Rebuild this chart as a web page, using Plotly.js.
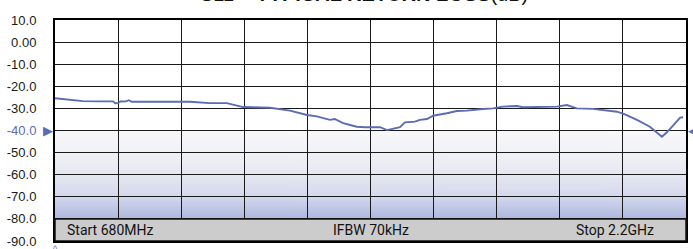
<!DOCTYPE html>
<html>
<head>
<meta charset="utf-8">
<script src="https://cdn.plot.ly/plotly-3.0.1.min.js"></script>
<style>html,body{margin:0;padding:0;background:#fff;}#chart{width:693px;height:249px;}</style>
</head>
<body>
<div id="chart"></div>
<script>
// Frequency in MHz
const freqMHz = [680, 716, 747, 788, 820, 825, 832, 837, 851, 858, 865, 933, 1005, 1053, 1094, 1133, 1198, 1246, 1287, 1311, 1342, 1354, 1374, 1391, 1407, 1427, 1451, 1463, 1480, 1511, 1523, 1547, 1559, 1576, 1591, 1615, 1624, 1648, 1672, 1711, 1735, 1759, 1793, 1807, 1856, 1889, 1913, 1937, 1976, 2017, 2034, 2053, 2082, 2113, 2130, 2142, 2154, 2186, 2193];
// Return loss S11 in dB
const s11dB = [-25.4, -26.0, -26.7, -26.8, -26.8, -27.7, -27.6, -26.9, -26.8, -26.3, -27.0, -27.0, -27.0, -27.6, -27.6, -29.4, -29.7, -31.0, -33.0, -33.6, -35.2, -34.8, -36.7, -37.5, -38.3, -38.5, -38.3, -38.5, -39.8, -38.5, -36.3, -36.0, -35.2, -34.8, -33.3, -32.7, -32.2, -31.2, -31.0, -30.3, -30.0, -29.2, -28.9, -29.5, -29.2, -29.2, -28.5, -30.0, -30.2, -31.0, -31.5, -32.7, -35.2, -38.3, -40.8, -42.8, -40.8, -34.2, -34.0];
const yTickVals = [10, 0, -10, -20, -30, -40, -50, -60, -70, -80, -90];
const yTickText = ['10.0', '0.00', '-10.0', '-20.0', '-30.0', '<span style="color:#5b6bb6">-40.0</span>', '-50.0', '-60.0', '-70.0', '-80.0', '-90.0'];
const barLabels = ['Start 680MHz', 'IFBW 70kHz', 'Stop 2.2GHz'];
const titleText = 'S11 – <b>TYPICAL RETURN LOSS</b>(dB)';
const refLevel = -40;

// gradient background image
const cv = document.createElement('canvas');
cv.width = 4; cv.height = 200;
const ctx = cv.getContext('2d');
const g = ctx.createLinearGradient(0, 0, 0, 200);
g.addColorStop(0, '#f8f8fa');
g.addColorStop(0.25, '#f1f2f6');
g.addColorStop(0.5, '#e6e8f1');
g.addColorStop(0.75, '#d3d8ec');
g.addColorStop(1, '#aeb8df');
ctx.fillStyle = g; ctx.fillRect(0, 0, 4, 200);
const gradURL = cv.toDataURL();

const trace = {
  x: freqMHz, y: s11dB, type: 'scatter', mode: 'lines',
  line: {color: '#5b6bb6', width: 1.9}, hoverinfo: 'skip'
};

const font = "'Liberation Sans', Arial, sans-serif";
const layout = {
  width: 693, height: 249,
  margin: {l: 55, r: 7, t: 20, b: 8},
  paper_bgcolor: '#ffffff', plot_bgcolor: '#ffffff',
  showlegend: false,
  xaxis: {
    range: [680, 2200], tickmode: 'linear', tick0: 680, dtick: 152,
    showticklabels: false, ticks: '', showgrid: true, gridcolor: '#1a1a1a', gridwidth: 1,
    zeroline: false, showline: true, linecolor: '#000', linewidth: 2, mirror: true
  },
  yaxis: {
    range: [-90, 10], tickmode: 'array', tickvals: yTickVals, ticktext: yTickText,
    ticks: '', ticklabelstandoff: 14, showgrid: true, gridcolor: '#1a1a1a', gridwidth: 1,
    zeroline: false, showline: true, linecolor: '#000', linewidth: 2, mirror: true,
    tickfont: {family: font, size: 13, color: '#1a1a1a'}
  },
  images: [{
    source: gradURL, xref: 'paper', yref: 'y', x: 0, y: refLevel, sizex: 1, sizey: 40,
    xanchor: 'left', yanchor: 'top', sizing: 'stretch', layer: 'below'
  }],
  shapes: [{
    type: 'rect', xref: 'paper', yref: 'y', x0: 0, x1: 1, y0: -90, y1: -80,
    fillcolor: '#cccccc', line: {color: '#111', width: 1.5}, layer: 'above'
  }],
  annotations: [
    {text: barLabels[0], xref: 'paper', yref: 'y', x: 0, y: -85, xanchor: 'left', xshift: 10, yanchor: 'middle', showarrow: false,
     font: {family: 'Roboto, sans-serif', size: 14, color: '#111'}},
    {text: barLabels[1], xref: 'paper', yref: 'y', x: 0.5, y: -85, xanchor: 'center', yanchor: 'middle', showarrow: false,
     font: {family: 'Roboto, sans-serif', size: 14, color: '#111'}},
    {text: barLabels[2], xref: 'paper', yref: 'y', x: 1, y: -85, xanchor: 'right', xshift: -30, yanchor: 'middle', showarrow: false,
     font: {family: 'Roboto, sans-serif', size: 14, color: '#111'}},
    {text: '▶', xref: 'paper', yref: 'y', x: 0, y: refLevel, xanchor: 'right', xshift: 0, yanchor: 'middle', showarrow: false,
     font: {family: "'DejaVu Sans'", size: 13, color: '#5b6bb6'}},
    {text: '◀', xref: 'paper', yref: 'y', x: 1, y: refLevel, xanchor: 'left', xshift: 0, yanchor: 'middle', showarrow: false,
     font: {family: "'DejaVu Sans'", size: 13, color: '#5b6bb6'}},
    {text: '^', xref: 'paper', yref: 'paper', x: 0, y: 0, xanchor: 'center', yanchor: 'top', yshift: -1, showarrow: false,
     font: {family: font, size: 9, color: '#5b6bb6'}},
    {text: titleText, xref: 'paper', yref: 'paper', x: 0.49, y: 1, xanchor: 'center', yanchor: 'bottom', yshift: 13, showarrow: false,
     font: {family: font, size: 20, color: '#111'}}
  ]
};

Plotly.newPlot('chart', [trace], layout, {staticPlot: true, displayModeBar: false});
</script>
</body>
</html>
